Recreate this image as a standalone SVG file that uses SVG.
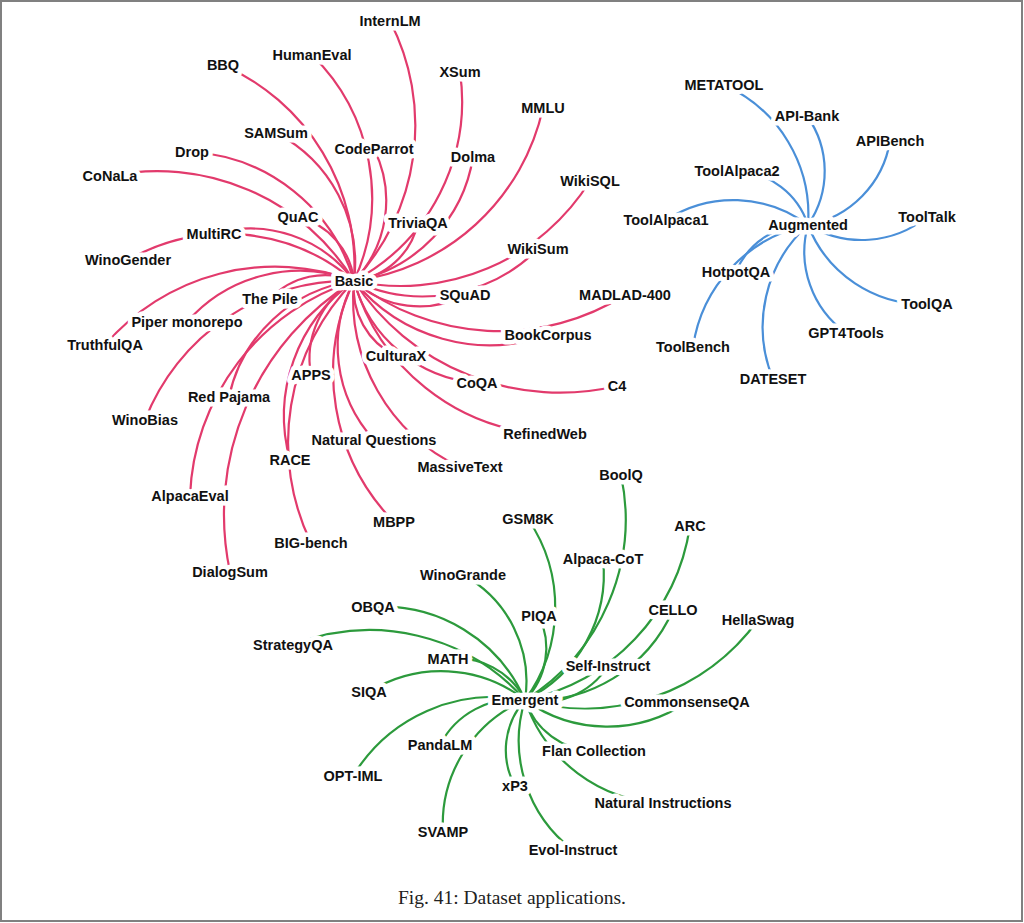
<svg xmlns="http://www.w3.org/2000/svg" width="1024" height="923" viewBox="0 0 1024 923">
<style>
.e{fill:none;stroke-width:2.2;stroke-linecap:round}
.p{stroke:#e23a6c}
.b{stroke:#4a8fd8}
.g{stroke:#2c9a3c}
text.n{font-family:"Liberation Sans",Arial,sans-serif;font-weight:bold;font-size:14.5px;fill:#111;text-anchor:middle;stroke:#fff;stroke-width:9;stroke-linejoin:round;paint-order:stroke}
text.cap{font-family:"Liberation Serif","Times New Roman",serif;font-size:19.5px;fill:#222;text-anchor:middle}
</style>
<rect x="1" y="1" width="1021" height="920" fill="#fff" stroke="#808080" stroke-width="2"/>
<g id="connectors">
<g class="e p">
<path d="M354,281 A228,228 0 0,0 390,21"/>
<path d="M354,281 A200,200 0 0,0 312,55"/>
<path d="M354,281 A220,220 0 0,0 223,65"/>
<path d="M354,281 A204,204 0 0,0 460,72"/>
<path d="M354,281 A223,223 0 0,0 543,108"/>
<path d="M354,281 A146,146 0 0,0 276,133"/>
<path d="M354,281 A116,116 0 0,0 374,149"/>
<path d="M354,281 A150,150 0 0,0 473,157"/>
<path d="M354,281 A180,180 0 0,0 192,152"/>
<path d="M354,281 A231,231 0 0,0 110,176"/>
<path d="M354,281 A74,74 0 0,0 298,217"/>
<path d="M354,281 A75,75 0 0,0 418,223"/>
<path d="M354,281 A223,223 0 0,0 590,181"/>
<path d="M354,281 A163,163 0 0,0 538,249"/>
<path d="M354,281 A128,128 0 0,0 214,234"/>
<path d="M354,281 A197,197 0 0,0 128,260"/>
<path d="M354,281 A75,75 0 0,0 270,299"/>
<path d="M354,281 A150,150 0 0,0 187,322"/>
<path d="M354,281 A224,224 0 0,0 105,345"/>
<path d="M354,281 A97,97 0 0,0 465,295"/>
<path d="M354,281 A236,236 0 0,0 625,295"/>
<path d="M354,281 A175,175 0 0,0 548,335"/>
<path d="M354,281 A75,75 0 0,0 396,356"/>
<path d="M354,281 A139,139 0 0,0 477,383"/>
<path d="M354,281 A246,246 0 0,0 617,386"/>
<path d="M354,281 A90,90 0 0,0 311,375"/>
<path d="M354,281 A148,148 0 0,0 229,397"/>
<path d="M354,281 A218,218 0 0,0 145,420"/>
<path d="M354,281 A213,213 0 0,0 545,434"/>
<path d="M354,281 A139,139 0 0,0 374,440"/>
<path d="M354,281 A186,186 0 0,0 460,467"/>
<path d="M354,281 A165,165 0 0,0 290,460"/>
<path d="M354,281 A235,235 0 0,0 190,496"/>
<path d="M354,281 A213,213 0 0,0 394,522"/>
<path d="M354,281 A231,231 0 0,0 311,543"/>
<path d="M354,281 A275,275 0 0,0 230,572"/>
</g>
<g class="e b">
<path d="M808,225 A142,142 0 0,0 724,85"/>
<path d="M808,225 A95,95 0 0,0 807,116"/>
<path d="M808,225 A102,102 0 0,0 890,141"/>
<path d="M808,225 A78,78 0 0,0 737,171"/>
<path d="M808,225 A124,124 0 0,0 666,220"/>
<path d="M808,225 A104,104 0 0,0 927,217"/>
<path d="M808,225 A75,75 0 0,0 736,272"/>
<path d="M808,225 A124,124 0 0,0 927,304"/>
<path d="M808,225 A100,100 0 0,0 846,333"/>
<path d="M808,225 A146,146 0 0,0 693,347"/>
<path d="M808,225 A137,137 0 0,0 773,379"/>
</g>
<g class="e g">
<path d="M525,700 A213,213 0 0,0 621,475"/>
<path d="M525,700 A157,157 0 0,0 528,519"/>
<path d="M525,700 A209,209 0 0,0 690,526"/>
<path d="M525,700 A140,140 0 0,0 603,559"/>
<path d="M525,700 A121,121 0 0,0 463,575"/>
<path d="M525,700 A74,74 0 0,0 539,616"/>
<path d="M525,700 A151,151 0 0,0 673,610"/>
<path d="M525,700 A214,214 0 0,0 758,620"/>
<path d="M525,700 A155,155 0 0,0 373,607"/>
<path d="M525,700 A207,207 0 0,0 293,645"/>
<path d="M525,700 A76,76 0 0,0 448,659"/>
<path d="M525,700 A78,78 0 0,0 608,666"/>
<path d="M525,700 A136,136 0 0,0 369,692"/>
<path d="M525,700 A141,141 0 0,0 687,702"/>
<path d="M525,700 A84,84 0 0,0 440,745"/>
<path d="M525,700 A75,75 0 0,0 594,751"/>
<path d="M525,700 A164,164 0 0,0 353,776"/>
<path d="M525,700 A75,75 0 0,0 515,786"/>
<path d="M525,700 A150,150 0 0,0 663,803"/>
<path d="M525,700 A135,135 0 0,0 443,832"/>
<path d="M525,700 A137,137 0 0,0 573,850"/>
</g>
</g>
<g id="n-internlm"><text class="n" x="390" y="26">InternLM</text></g>
<g id="n-humaneval"><text class="n" x="312" y="60">HumanEval</text></g>
<g id="n-bbq"><text class="n" x="223" y="70">BBQ</text></g>
<g id="n-xsum"><text class="n" x="460" y="77">XSum</text></g>
<g id="n-mmlu"><text class="n" x="543" y="113">MMLU</text></g>
<g id="n-samsum"><text class="n" x="276" y="138">SAMSum</text></g>
<g id="n-codeparrot"><text class="n" x="374" y="154">CodeParrot</text></g>
<g id="n-dolma"><text class="n" x="473" y="162">Dolma</text></g>
<g id="n-drop"><text class="n" x="192" y="157">Drop</text></g>
<g id="n-conala"><text class="n" x="110" y="181">CoNaLa</text></g>
<g id="n-quac"><text class="n" x="298" y="222">QuAC</text></g>
<g id="n-triviaqa"><text class="n" x="418" y="228">TriviaQA</text></g>
<g id="n-wikisql"><text class="n" x="590" y="186">WikiSQL</text></g>
<g id="n-wikisum"><text class="n" x="538" y="254">WikiSum</text></g>
<g id="n-multirc"><text class="n" x="214" y="239">MultiRC</text></g>
<g id="n-winogender"><text class="n" x="128" y="265">WinoGender</text></g>
<g id="n-thepile"><text class="n" x="270" y="304">The Pile</text></g>
<g id="n-piper"><text class="n" x="187" y="327">Piper monorepo</text></g>
<g id="n-truthfulqa"><text class="n" x="105" y="350">TruthfulQA</text></g>
<g id="n-squad"><text class="n" x="465" y="300">SQuAD</text></g>
<g id="n-madlad"><text class="n" x="625" y="300">MADLAD-400</text></g>
<g id="n-bookcorpus"><text class="n" x="548" y="340">BookCorpus</text></g>
<g id="n-culturax"><text class="n" x="396" y="361">CulturaX</text></g>
<g id="n-coqa"><text class="n" x="477" y="388">CoQA</text></g>
<g id="n-c4"><text class="n" x="617" y="391">C4</text></g>
<g id="n-apps"><text class="n" x="311" y="380">APPS</text></g>
<g id="n-redpajama"><text class="n" x="229" y="402">Red Pajama</text></g>
<g id="n-winobias"><text class="n" x="145" y="425">WinoBias</text></g>
<g id="n-refinedweb"><text class="n" x="545" y="439">RefinedWeb</text></g>
<g id="n-naturalq"><text class="n" x="374" y="445">Natural Questions</text></g>
<g id="n-massivetext"><text class="n" x="460" y="472">MassiveText</text></g>
<g id="n-race"><text class="n" x="290" y="465">RACE</text></g>
<g id="n-alpacaeval"><text class="n" x="190" y="501">AlpacaEval</text></g>
<g id="n-mbpp"><text class="n" x="394" y="527">MBPP</text></g>
<g id="n-bigbench"><text class="n" x="311" y="548">BIG-bench</text></g>
<g id="n-dialogsum"><text class="n" x="230" y="577">DialogSum</text></g>
<g id="n-basic"><text class="n" x="354" y="286">Basic</text></g>
<g id="n-metatool"><text class="n" x="724" y="90">METATOOL</text></g>
<g id="n-apibank"><text class="n" x="807" y="121">API-Bank</text></g>
<g id="n-apibench"><text class="n" x="890" y="146">APIBench</text></g>
<g id="n-toolalpaca2"><text class="n" x="737" y="176">ToolAlpaca2</text></g>
<g id="n-toolalpaca1"><text class="n" x="666" y="225">ToolAlpaca1</text></g>
<g id="n-tooltalk"><text class="n" x="927" y="222">ToolTalk</text></g>
<g id="n-hotpotqa"><text class="n" x="736" y="277">HotpotQA</text></g>
<g id="n-toolqa"><text class="n" x="927" y="309">ToolQA</text></g>
<g id="n-gpt4tools"><text class="n" x="846" y="338">GPT4Tools</text></g>
<g id="n-toolbench"><text class="n" x="693" y="352">ToolBench</text></g>
<g id="n-dateset"><text class="n" x="773" y="384">DATESET</text></g>
<g id="n-augmented"><text class="n" x="808" y="230">Augmented</text></g>
<g id="n-boolq"><text class="n" x="621" y="480">BoolQ</text></g>
<g id="n-gsm8k"><text class="n" x="528" y="524">GSM8K</text></g>
<g id="n-arc"><text class="n" x="690" y="531">ARC</text></g>
<g id="n-alpacacot"><text class="n" x="603" y="564">Alpaca-CoT</text></g>
<g id="n-winogrande"><text class="n" x="463" y="580">WinoGrande</text></g>
<g id="n-piqa"><text class="n" x="539" y="621">PIQA</text></g>
<g id="n-cello"><text class="n" x="673" y="615">CELLO</text></g>
<g id="n-hellaswag"><text class="n" x="758" y="625">HellaSwag</text></g>
<g id="n-obqa"><text class="n" x="373" y="612">OBQA</text></g>
<g id="n-strategyqa"><text class="n" x="293" y="650">StrategyQA</text></g>
<g id="n-math"><text class="n" x="448" y="664">MATH</text></g>
<g id="n-selfinstruct"><text class="n" x="608" y="671">Self-Instruct</text></g>
<g id="n-siqa"><text class="n" x="369" y="697">SIQA</text></g>
<g id="n-commonsenseqa"><text class="n" x="687" y="707">CommonsenseQA</text></g>
<g id="n-pandalm"><text class="n" x="440" y="750">PandaLM</text></g>
<g id="n-flan"><text class="n" x="594" y="756">Flan Collection</text></g>
<g id="n-optiml"><text class="n" x="353" y="781">OPT-IML</text></g>
<g id="n-xp3"><text class="n" x="515" y="791">xP3</text></g>
<g id="n-natinstr"><text class="n" x="663" y="808">Natural Instructions</text></g>
<g id="n-svamp"><text class="n" x="443" y="837">SVAMP</text></g>
<g id="n-evolinstruct"><text class="n" x="573" y="855">Evol-Instruct</text></g>
<g id="n-emergent"><text class="n" x="525" y="705">Emergent</text></g>
<text class="cap" x="512" y="904">Fig. 41: Dataset applications.</text>
</svg>
